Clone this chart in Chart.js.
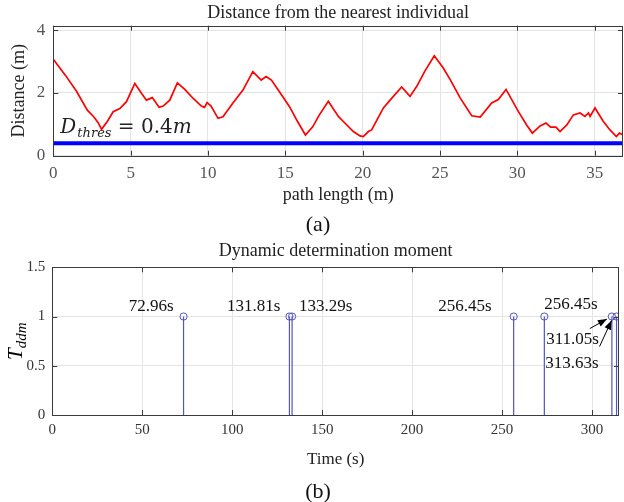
<!DOCTYPE html>
<html>
<head>
<meta charset="utf-8">
<script src="https://cdn.jsdelivr.net/npm/chart.js@4.4.1/dist/chart.umd.min.js"></script>
<style>
  body { margin: 0; background: #fff; }
  #wrap { position: relative; width: 624px; height: 502px; }
  canvas { position: absolute; left: 0; }
  .sub { position: absolute; font-family: 'Liberation Serif', serif; font-size: 22px; color: #111;
         transform: translate(-50%, -50%); line-height: 1; }
</style>
</head>
<body>
<div id="wrap">
  <canvas id="topChart" width="624" height="206" style="top:0"></canvas>
  <canvas id="bottomChart" width="624" height="240" style="top:230px"></canvas>
  <div class="sub" style="left:318px; top:224px">(a)</div>
  <div class="sub" style="left:318px; top:491px">(b)</div>
</div>
<script>
// (a) distance to the nearest individual along the path
const pathLength = [0, 0.8, 1.5, 2.2, 2.6, 2.9, 3.12, 3.5, 3.87, 4.3, 4.73, 5.27, 5.7, 6.02, 6.4, 6.84,
  7.1, 7.53, 8.02, 8.5, 9.03, 9.57, 9.78, 9.94, 10.2, 10.65, 10.97, 11.6, 12.26, 12.9, 13.44, 13.76,
  14.1, 14.62, 15.27, 15.8, 16.3, 16.77, 17.2, 17.78, 18.43, 18.75, 19.4, 19.83, 20.04, 20.37, 20.58,
  21.34, 21.9, 22.52, 23.06, 23.5, 24.03, 24.63, 25.2, 25.65, 26.3, 27.05, 27.6, 28.34, 28.77, 29.27,
  30.06, 30.6, 30.97, 31.47, 31.85, 32.15, 32.5, 32.76, 33.2, 33.62, 34.05, 34.37, 34.6, 34.7, 35.02,
  35.56, 35.99, 36.4, 36.6, 36.83];
const distance = [3.07, 2.55, 2.05, 1.45, 1.25, 1.05, 0.84, 1.1, 1.4, 1.5, 1.72, 2.3, 1.99, 1.77, 1.85, 1.54,
  1.58, 1.77, 2.32, 2.11, 1.83, 1.58, 1.54, 1.69, 1.58, 1.19, 1.24, 1.67, 2.09, 2.68, 2.41, 2.52,
  2.41, 2.04, 1.56, 1.08, 0.66, 0.92, 1.3, 1.73, 1.25, 1.09, 0.77, 0.63, 0.61, 0.77, 0.82,
  1.52, 1.84, 2.19, 1.89, 2.21, 2.7, 3.18, 2.8, 2.43, 1.84, 1.27, 1.23, 1.68, 1.79, 2.11,
  1.41, 0.98, 0.72, 0.95, 1.04, 0.91, 0.91, 0.77, 0.98, 1.3, 1.36, 1.25, 1.36, 1.25, 1.52,
  1.09, 0.82, 0.61, 0.72, 0.66];
const dThres = 0.4;
const topXTicks = [0, 5, 10, 15, 20, 25, 30, 35];
const topYTicks = [0, 2, 4];

// (b) dynamic determination moments
const stemTimes = [72.96, 131.81, 133.29, 256.45, 273.5, 311.05, 313.63];
const stemValues = [1, 1, 1, 1, 1, 1, 1];
const stemLabels = ['72.96s', '131.81s', '133.29s', '256.45s', '256.45s', '311.05s', '313.63s'];
const botXTicks = [0, 50, 100, 150, 200, 250, 300];
const botYTicks = [0, 0.5, 1, 1.5];

const serif = 'Liberation Serif';
const stemColor = 'rgb(84, 84, 190)';

// label placement relative to its stem top: [dx, dy, align]
const labelPlace = [[-10, -10, 'right'], [-9, -10, 'right'], [7, -10, 'left'], [-22, -10, 'right'],
  [0, -12, 'left'], [-13, 23, 'right'], [-18, 47, 'right']];
// arrows for the two crowded stems: [stem index, tail dx, tail dy, head dx, head dy]
const arrows = [[5, -22, 12, -5, 2.5], [6, -17, 30, -5, 4]];

// matlab style box with inward ticks
const boxPlugin = {
  id: 'box',
  afterDraw(chart) {
    const {ctx, chartArea: a, scales: {x, y}} = chart;
    ctx.save();
    ctx.strokeStyle = '#3a3a3a';
    ctx.lineWidth = 1;
    ctx.strokeRect(Math.round(a.left) + 0.5, Math.round(a.top) + 0.5,
      Math.round(a.right - a.left) - 1, Math.round(a.bottom - a.top));
    ctx.beginPath();
    x.ticks.forEach(t => {
      const px = Math.round(x.getPixelForValue(t.value)) + 0.5;
      ctx.moveTo(px, a.bottom); ctx.lineTo(px, a.bottom - 5);
      ctx.moveTo(px, a.top); ctx.lineTo(px, a.top + 5);
    });
    y.ticks.forEach(t => {
      const py = Math.round(y.getPixelForValue(t.value)) + 0.5;
      ctx.moveTo(a.left, py); ctx.lineTo(a.left + 5, py);
      ctx.moveTo(a.right, py); ctx.lineTo(a.right - 5, py);
    });
    ctx.stroke();
    ctx.restore();
  }
};

const thresPlugin = {
  id: 'thres',
  afterDraw(chart) {
    const {ctx, chartArea: a} = chart;
    ctx.save();
    ctx.fillStyle = '#222';
    ctx.textBaseline = 'alphabetic';
    let x = a.left + 7;
    const base = 133;
    ctx.font = 'italic 20px "DejaVu Serif"';
    ctx.fillText('D', x, base); x += ctx.measureText('D').width + 1;
    ctx.font = 'italic 13px "DejaVu Serif"';
    ctx.fillText('thres', x, base + 4); x += ctx.measureText('thres').width;
    ctx.font = '20px "DejaVu Serif"';
    ctx.fillText(' = 0.4', x, base); x += ctx.measureText(' = 0.4').width;
    ctx.font = 'italic 20px "DejaVu Serif"';
    ctx.fillText('m', x, base);
    ctx.restore();
  }
};

const stemTextPlugin = {
  id: 'stemText',
  afterDraw(chart) {
    const {ctx, chartArea: a, scales: {x, y}} = chart;
    ctx.save();
    ctx.fillStyle = '#111';
    ctx.font = '17px "' + serif + '"';
    ctx.textBaseline = 'middle';
    stemTimes.forEach((t, i) => {
      const px = x.getPixelForValue(t), py = y.getPixelForValue(stemValues[i]);
      const [dx, dy, al] = labelPlace[i];
      ctx.textAlign = al;
      ctx.fillText(stemLabels[i], px + dx, py + dy);
    });
    // arrows
    ctx.strokeStyle = '#000';
    ctx.fillStyle = '#000';
    ctx.lineWidth = 1;
    arrows.forEach(([i, tx, ty, hx, hy]) => {
      const px = x.getPixelForValue(stemTimes[i]), py = y.getPixelForValue(stemValues[i]);
      const x0 = px + tx, y0 = py + ty, x1 = px + hx, y1 = py + hy;
      const ang = Math.atan2(y1 - y0, x1 - x0);
      ctx.beginPath(); ctx.moveTo(x0, y0); ctx.lineTo(x1, y1); ctx.stroke();
      ctx.beginPath();
      ctx.moveTo(x1, y1);
      ctx.lineTo(x1 - 9 * Math.cos(ang) + 3.5 * Math.sin(ang), y1 - 9 * Math.sin(ang) - 3.5 * Math.cos(ang));
      ctx.lineTo(x1 - 9 * Math.cos(ang) - 3.5 * Math.sin(ang), y1 - 9 * Math.sin(ang) + 3.5 * Math.cos(ang));
      ctx.closePath(); ctx.fill();
    });
    // y axis label T_ddm
    ctx.translate(16, (a.top + a.bottom) / 2);
    ctx.rotate(-Math.PI / 2);
    ctx.textAlign = 'left';
    ctx.textBaseline = 'alphabetic';
    ctx.font = 'italic 21px "' + serif + '"';
    const w1 = ctx.measureText('T').width;
    ctx.font = 'italic 15px "' + serif + '"';
    const w2 = ctx.measureText('ddm').width;
    const sx = -(w1 + w2) / 2;
    ctx.font = 'italic 21px "' + serif + '"';
    ctx.fillText('T', sx, 6);
    ctx.font = 'italic 15px "' + serif + '"';
    ctx.fillText('ddm', sx + w1, 10);
    ctx.restore();
  }
};

const tickFont = size => ({family: serif, size: size});

new Chart(document.getElementById('topChart'), {
  type: 'line',
  data: {
    datasets: [
      {
        data: pathLength.map((v, i) => ({x: v, y: distance[i]})),
        borderColor: '#ff0000', borderWidth: 1.7, pointRadius: 0, tension: 0
      },
      {
        data: [{x: 0, y: dThres}, {x: 36.83, y: dThres}],
        borderColor: '#0000ff', borderWidth: 4, pointRadius: 0
      }
    ]
  },
  options: {
    responsive: false,
    animation: false,
    layout: {padding: {left: 0, right: 1, top: 0, bottom: 0}},
    plugins: {
      legend: {display: false},
      tooltip: {enabled: false},
      title: {
        display: true, fullSize: false, text: 'Distance from the nearest individual', color: '#222',
        font: {family: serif, size: 18, weight: 'normal'}, padding: {top: 2.7, bottom: 1.4}
      }
    },
    scales: {
      x: {
        type: 'linear', min: 0, max: 36.83,
        afterBuildTicks: s => { s.ticks = topXTicks.map(v => ({value: v})); },
        afterFit: s => { s.height = 50.3; },
        grid: {color: '#e4e4e4', drawTicks: false},
        border: {display: false},
        ticks: {padding: 8, color: '#555', font: tickFont(17), autoSkip: false, maxRotation: 0},
        title: {display: true, text: 'path length (m)', color: '#222', padding: 0, font: {family: serif, size: 18}}
      },
      y: {
        min: 0, max: 4.14,
        afterBuildTicks: s => { s.ticks = topYTicks.map(v => ({value: v})); },
        afterFit: s => { s.width = 53.3; },
        grid: {color: '#e4e4e4', drawTicks: false},
        border: {display: false},
        ticks: {padding: 8, color: '#555', font: tickFont(17), callback: v => String(v)},
        title: {display: true, text: 'Distance (m)', color: '#222', padding: {top: 8}, font: {family: serif, size: 18}}
      }
    }
  },
  plugins: [boxPlugin, thresPlugin]
});

new Chart(document.getElementById('bottomChart'), {
  type: 'line',
  data: {
    datasets: [
      {
        data: stemTimes.flatMap((t, i) => [{x: t, y: 0}, {x: t, y: stemValues[i]}, {x: t, y: null}]),
        borderColor: stemColor, borderWidth: 1.2, pointRadius: 0, spanGaps: false
      },
      {
        data: stemTimes.map((t, i) => ({x: t, y: stemValues[i]})),
        showLine: false, pointStyle: 'circle', pointRadius: 3.6, pointBorderWidth: 1,
        pointBorderColor: stemColor, pointBackgroundColor: 'rgba(0,0,0,0)'
      }
    ]
  },
  options: {
    responsive: false,
    animation: false,
    layout: {padding: {left: 0, right: 2.3, top: 0, bottom: 0}},
    plugins: {
      legend: {display: false},
      tooltip: {enabled: false},
      title: {
        display: true, fullSize: false, text: 'Dynamic determination moment', color: '#222',
        font: {family: serif, size: 18, weight: 'normal'}, padding: {top: 10.2, bottom: 5.5}
      }
    },
    scales: {
      x: {
        type: 'linear', min: 0, max: 315,
        afterBuildTicks: s => { s.ticks = botXTicks.map(v => ({value: v})); },
        afterFit: s => { s.height = 55; },
        grid: {color: '#e4e4e4', drawTicks: false},
        border: {display: false},
        ticks: {padding: 6, color: '#333', font: tickFont(15), autoSkip: false, maxRotation: 0},
        title: {display: true, text: 'Time (s)', color: '#222', padding: 0, font: {family: serif, size: 17}}
      },
      y: {
        min: 0, max: 1.5,
        afterBuildTicks: s => { s.ticks = botYTicks.map(v => ({value: v})); },
        afterFit: s => { s.width = 52.3; },
        grid: {color: '#e4e4e4', drawTicks: false},
        border: {display: false},
        ticks: {padding: 7, color: '#333', font: tickFont(15), callback: v => String(v)}
      }
    }
  },
  plugins: [boxPlugin, stemTextPlugin]
});
</script>
</body>
</html>
